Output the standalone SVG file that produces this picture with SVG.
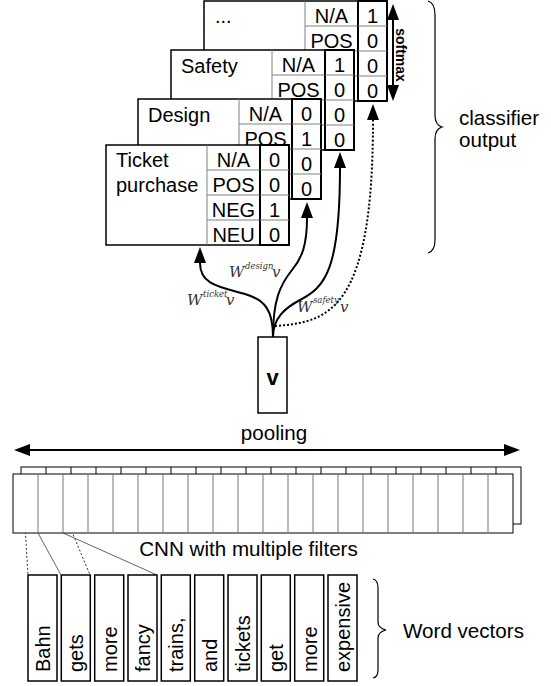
<svg xmlns="http://www.w3.org/2000/svg" width="551" height="686" viewBox="0 0 551 686">
<defs>
<style>
text{font-family:"Liberation Sans",Arial,sans-serif;fill:#000;font-size:20px}
.c{text-anchor:middle}
.lbl{font-size:20.6px}
.card{fill:#fff;stroke:#000;stroke-width:1.5}
.val{fill:#fff;stroke:#000;stroke-width:2}
.div{stroke:#808080;stroke-width:1}
.arr{fill:none;stroke:#000;stroke-width:2}
.dot{stroke-dasharray:2 2}
.w{font-family:"DejaVu Serif",serif;font-style:italic;fill:#333;font-size:15px}
.sup{font-size:8.5px}
.box{fill:#fff;stroke:#000;stroke-width:1.5}
.brace{fill:none;stroke:#000;stroke-width:1.2}
.fine{stroke:#666;stroke-width:1}
.fdot{stroke:#333;stroke-width:1;stroke-dasharray:2 2}
</style>
<marker id="ah" viewBox="0 0 16 12" markerWidth="16" markerHeight="12" refX="0" refY="6" orient="auto-start-reverse" markerUnits="userSpaceOnUse"><path d="M0,0 L16,6 L0,12 z" fill="#000"/></marker>
</defs>

<g id="card-more" transform="translate(204,1)">
<rect class="card" x="0" y="0" width="154" height="100"/>
<line class="div" x1="101" y1="0" x2="101" y2="100"/>
<line class="div" x1="101" y1="25" x2="154" y2="25"/>
<line class="div" x1="101" y1="50" x2="154" y2="50"/>
<line class="div" x1="101" y1="75" x2="154" y2="75"/>
<rect class="val" x="154" y="0" width="29" height="100"/>
<line class="div" x1="154" y1="25" x2="183" y2="25"/>
<line class="div" x1="154" y1="50" x2="183" y2="50"/>
<line class="div" x1="154" y1="75" x2="183" y2="75"/>
<text x="11" y="22">...</text>
<text class="c" x="127.5" y="21.5">N/A</text>
<text class="c" x="127.5" y="46.5">POS</text>
<text class="c" x="168.5" y="21.5">1</text>
<text class="c" x="168.5" y="46.5">0</text>
<text class="c" x="168.5" y="71.5">0</text>
<text class="c" x="168.5" y="96.5">0</text>
</g>

<g id="card-safety" transform="translate(171,50)">
<rect class="card" x="0" y="0" width="154" height="100"/>
<line class="div" x1="101" y1="0" x2="101" y2="100"/>
<line class="div" x1="101" y1="25" x2="154" y2="25"/>
<line class="div" x1="101" y1="50" x2="154" y2="50"/>
<line class="div" x1="101" y1="75" x2="154" y2="75"/>
<rect class="val" x="154" y="0" width="29" height="100"/>
<line class="div" x1="154" y1="25" x2="183" y2="25"/>
<line class="div" x1="154" y1="50" x2="183" y2="50"/>
<line class="div" x1="154" y1="75" x2="183" y2="75"/>
<text x="10" y="23">Safety</text>
<text class="c" x="127.5" y="21.5">N/A</text>
<text class="c" x="127.5" y="46.5">POS</text>
<text class="c" x="168.5" y="21.5">1</text>
<text class="c" x="168.5" y="46.5">0</text>
<text class="c" x="168.5" y="71.5">0</text>
<text class="c" x="168.5" y="96.5">0</text>
</g>

<g id="card-design" transform="translate(138,99)">
<rect class="card" x="0" y="0" width="154" height="100"/>
<line class="div" x1="101" y1="0" x2="101" y2="100"/>
<line class="div" x1="101" y1="25" x2="154" y2="25"/>
<line class="div" x1="101" y1="50" x2="154" y2="50"/>
<line class="div" x1="101" y1="75" x2="154" y2="75"/>
<rect class="val" x="154" y="0" width="29" height="100"/>
<line class="div" x1="154" y1="25" x2="183" y2="25"/>
<line class="div" x1="154" y1="50" x2="183" y2="50"/>
<line class="div" x1="154" y1="75" x2="183" y2="75"/>
<text x="10" y="23">Design</text>
<text class="c" x="127.5" y="21.5">N/A</text>
<text class="c" x="127.5" y="46.5">POS</text>
<text class="c" x="168.5" y="21.5">0</text>
<text class="c" x="168.5" y="46.5">1</text>
<text class="c" x="168.5" y="71.5">0</text>
<text class="c" x="168.5" y="96.5">0</text>
</g>

<g id="card-ticket" transform="translate(106,145)">
<rect class="card" x="0" y="0" width="154" height="100"/>
<line class="div" x1="101" y1="0" x2="101" y2="100"/>
<line class="div" x1="101" y1="25" x2="154" y2="25"/>
<line class="div" x1="101" y1="50" x2="154" y2="50"/>
<line class="div" x1="101" y1="75" x2="154" y2="75"/>
<rect class="val" x="154" y="0" width="29" height="100"/>
<line class="div" x1="154" y1="25" x2="183" y2="25"/>
<line class="div" x1="154" y1="50" x2="183" y2="50"/>
<line class="div" x1="154" y1="75" x2="183" y2="75"/>
<text x="10" y="22">Ticket</text>
<text x="10" y="47">purchase</text>
<text class="c" x="127.5" y="21.5">N/A</text>
<text class="c" x="127.5" y="46.5">POS</text>
<text class="c" x="127.5" y="71.5">NEG</text>
<text class="c" x="127.5" y="96.5">NEU</text>
<text class="c" x="168.5" y="21.5">0</text>
<text class="c" x="168.5" y="46.5">0</text>
<text class="c" x="168.5" y="71.5">1</text>
<text class="c" x="168.5" y="96.5">0</text>
</g>

<g id="softmax">
<line class="arr" x1="393" y1="20" x2="393" y2="85" marker-start="url(#ah)" marker-end="url(#ah)"/>
<text transform="translate(396,55) rotate(90)" class="c" style="font-size:14px;font-weight:bold">softmax</text>
</g>

<g id="classifier-output">
<path class="brace" d="M428,1 Q435,3 435,15 L435,115 Q435,125 442,127 Q435,129 435,139 L435,240 Q435,251 428,253"/>
<text class="lbl" x="459" y="125">classifier</text>
<text class="lbl" x="459" y="147">output</text>
</g>

<g id="vector-v">
<rect class="box" x="258" y="337" width="29" height="76"/>
<text class="c" x="272.5" y="385" style="font-weight:bold;font-size:22px">v</text>
</g>

<g id="connectors">
<path class="arr" d="M273,337 C273,310 265,300 245,294 C220,287 200,285 200,263" marker-end="url(#ah)"/>
<path class="arr" d="M273,337 C273,300 280,285 292,270 C302,258 307,245 307,218" marker-end="url(#ah)"/>
<path class="arr" d="M273,337 C273,318 285,308 300,300 C325,287 340,270 340,168" marker-end="url(#ah)"/>
<path class="arr dot" d="M275,326 C330,322 373,310 373,120" marker-end="url(#ah)"/>
<line class="arr" x1="30" y1="450" x2="504" y2="450" marker-start="url(#ah)" marker-end="url(#ah)"/>
<line class="fdot" x1="22" y1="476" x2="28" y2="575"/>
<line class="fdot" x1="47" y1="472" x2="90" y2="575"/>
<line class="fine" x1="38" y1="533" x2="61" y2="575"/>
<line class="fine" x1="63" y1="533" x2="157" y2="575"/>
</g>

<g id="weight-labels">
<text class="w" x="187" y="305">W<tspan class="sup" x="203" y="297">ticket</tspan><tspan x="226" y="305">v</tspan></text>
<text class="w" x="229" y="277">W<tspan class="sup" x="245" y="269">design</tspan><tspan x="272" y="277">v</tspan></text>
<text class="w" x="297" y="312">W<tspan class="sup" x="313" y="303">safety</tspan><tspan x="340" y="312">v</tspan></text>
</g>

<g id="pooling">
<text class="c lbl" x="274" y="440">pooling</text>
</g>

<g id="cnn">
<rect x="21" y="467" width="500" height="57" fill="#fff" stroke="#000" stroke-width="1"/>
<g stroke="#000" stroke-width="1">
<line x1="46" y1="467" x2="46" y2="474"/><line x1="71" y1="467" x2="71" y2="474"/><line x1="96" y1="467" x2="96" y2="474"/><line x1="121" y1="467" x2="121" y2="474"/><line x1="146" y1="467" x2="146" y2="474"/><line x1="171" y1="467" x2="171" y2="474"/><line x1="196" y1="467" x2="196" y2="474"/><line x1="221" y1="467" x2="221" y2="474"/><line x1="246" y1="467" x2="246" y2="474"/><line x1="271" y1="467" x2="271" y2="474"/><line x1="296" y1="467" x2="296" y2="474"/><line x1="321" y1="467" x2="321" y2="474"/><line x1="346" y1="467" x2="346" y2="474"/><line x1="371" y1="467" x2="371" y2="474"/><line x1="396" y1="467" x2="396" y2="474"/><line x1="421" y1="467" x2="421" y2="474"/><line x1="446" y1="467" x2="446" y2="474"/><line x1="471" y1="467" x2="471" y2="474"/><line x1="496" y1="467" x2="496" y2="474"/>
</g>
<rect x="13" y="474" width="500" height="59" fill="#fff" stroke="#000" stroke-width="1"/>
<g stroke="#777" stroke-width="1">
<line x1="38" y1="474" x2="38" y2="533"/><line x1="63" y1="474" x2="63" y2="533"/><line x1="88" y1="474" x2="88" y2="533"/><line x1="113" y1="474" x2="113" y2="533"/><line x1="138" y1="474" x2="138" y2="533"/><line x1="163" y1="474" x2="163" y2="533"/><line x1="188" y1="474" x2="188" y2="533"/><line x1="213" y1="474" x2="213" y2="533"/><line x1="238" y1="474" x2="238" y2="533"/><line x1="263" y1="474" x2="263" y2="533"/><line x1="288" y1="474" x2="288" y2="533"/><line x1="313" y1="474" x2="313" y2="533"/><line x1="338" y1="474" x2="338" y2="533"/><line x1="363" y1="474" x2="363" y2="533"/><line x1="388" y1="474" x2="388" y2="533"/><line x1="413" y1="474" x2="413" y2="533"/><line x1="438" y1="474" x2="438" y2="533"/><line x1="463" y1="474" x2="463" y2="533"/><line x1="488" y1="474" x2="488" y2="533"/>
</g>
<text class="c lbl" x="248.5" y="556">CNN with multiple filters</text>
</g>

<g id="word-vectors">
<g id="w-bahn"><rect class="box" x="28" y="575" width="29" height="106"/><text transform="translate(50,672) rotate(-90)">Bahn</text></g>
<g id="w-gets"><rect class="box" x="61.3" y="575" width="29" height="106"/><text transform="translate(83.3,672) rotate(-90)">gets</text></g>
<g id="w-more1"><rect class="box" x="94.7" y="575" width="29" height="106"/><text transform="translate(116.7,672) rotate(-90)">more</text></g>
<g id="w-fancy"><rect class="box" x="128" y="575" width="29" height="106"/><text transform="translate(150,672) rotate(-90)">fancy</text></g>
<g id="w-trains"><rect class="box" x="161.3" y="575" width="29" height="106"/><text transform="translate(183.3,672) rotate(-90)">trains,</text></g>
<g id="w-and"><rect class="box" x="194.7" y="575" width="29" height="106"/><text transform="translate(216.7,672) rotate(-90)">and</text></g>
<g id="w-tickets"><rect class="box" x="228" y="575" width="29" height="106"/><text transform="translate(250,672) rotate(-90)">tickets</text></g>
<g id="w-get"><rect class="box" x="261.3" y="575" width="29" height="106"/><text transform="translate(283.3,672) rotate(-90)">get</text></g>
<g id="w-more2"><rect class="box" x="294.7" y="575" width="29" height="106"/><text transform="translate(316.7,672) rotate(-90)">more</text></g>
<g id="w-expensive"><rect class="box" x="328" y="575" width="29" height="106"/><text transform="translate(350,672) rotate(-90)">expensive</text></g>
<path class="brace" d="M373,579 Q378,580 378,588 L378,622 Q378,628 386,630 Q378,632 378,638 L378,670 Q378,677 373,678"/>
<text class="lbl" x="403" y="638">Word vectors</text>
</g>
</svg>
